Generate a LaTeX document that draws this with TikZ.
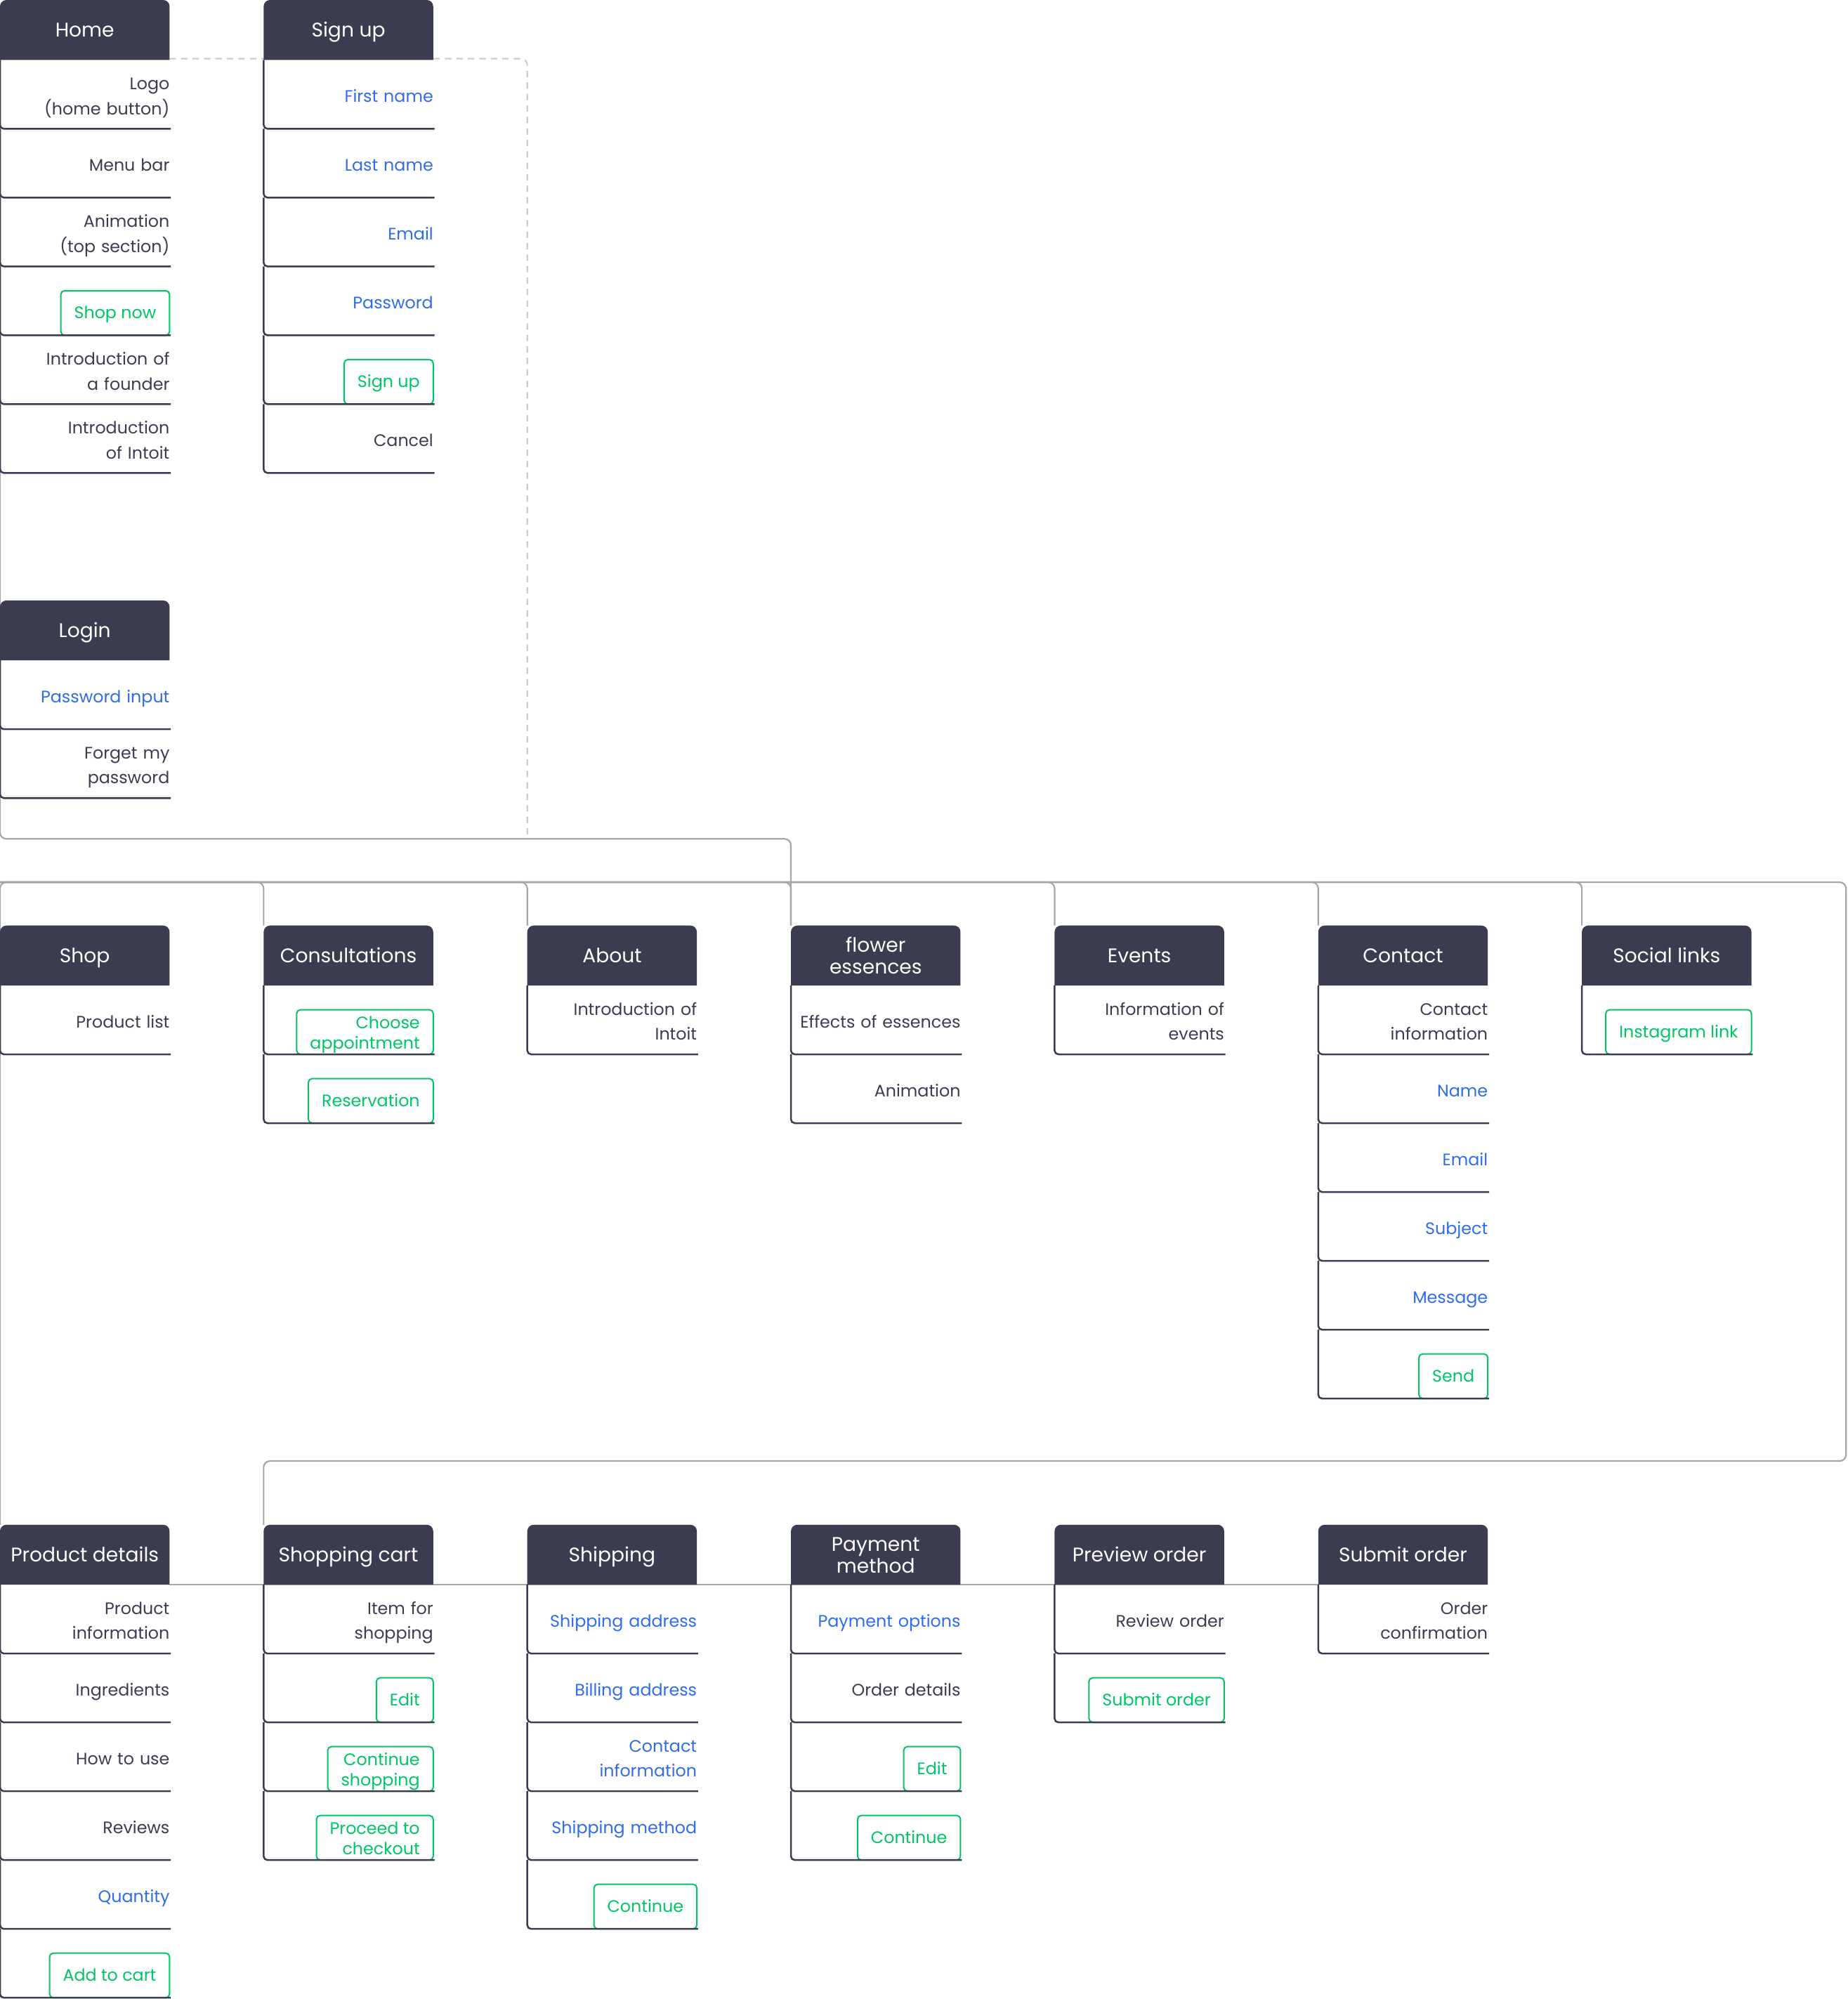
\documentclass[tikz,border=0pt]{standalone}
\usepackage{fontspec}
\setmainfont{Poppins}
\usepackage{tikz}
\usetikzlibrary{positioning,backgrounds}
\definecolor{ink}{HTML}{3C3C50}
\definecolor{azure}{HTML}{2F6CEB}
\definecolor{mint}{HTML}{00C565}
\definecolor{rail}{HTML}{A6A6A6}
\definecolor{faint}{HTML}{CCCCCC}
\tikzset{
  every node/.style={outer sep=0pt},
  hdr/.style={minimum width=133pt,minimum height=47pt,inner sep=0pt,text=white,align=center,text height=11pt,text depth=0pt,font=\fontsize{15.5}{17}\selectfont},
  tallhdr/.style={text height=28.5pt,text depth=0pt},
  item/.style={text width=133pt,inner xsep=0pt,inner ysep=0pt,minimum height=54pt,align=right,text=ink,text height=12.2pt,text depth=0pt,font=\fontsize{13.1}{19.5}\selectfont},
  field/.style={item,text=azure},
  tall/.style={text depth=19.5pt},
  btn/.style={draw=mint,line width=1.1pt,rounded corners=3pt,text=mint,minimum height=35pt,inner xsep=10.5pt,inner ysep=0pt,align=right,anchor=south east,text height=9.2pt,text depth=0pt,font=\fontsize{13.1}{16}\selectfont},
  tallbtn/.style={text height=26.5pt,text depth=0pt},
  cell/.style={draw=ink,line width=1.4pt,rounded corners=3pt},
  link/.style={draw=rail,line width=1.2pt,rounded corners=5pt},
  dashlink/.style={draw=faint,line width=1.2pt,dash pattern=on 5pt off 4pt,rounded corners=5pt},
}
\begin{document}
\begin{tikzpicture}[x=1pt,y=-1pt]
  \useasboundingbox (0,0) rectangle (1449,1568);
  % page headers
  \node[hdr,anchor=north west] (home) at (0,0) {Home};
  \node[hdr,right=73.8pt of home] (signup) {Sign up};
  \node[hdr,anchor=north west] (login) at (0,471) {Login};
  \node[hdr,anchor=north west] (shop) at (0,726) {Shop};
  \node[hdr,right=73.8pt of shop] (cons) {Consultations};
  \node[hdr,right=73.8pt of cons] (about) {About};
  \node[hdr,tallhdr,right=73.8pt of about] (flower) {flower\\essences};
  \node[hdr,right=73.8pt of flower] (events) {Events};
  \node[hdr,right=73.8pt of events] (contact) {Contact};
  \node[hdr,right=73.8pt of contact] (social) {Social links};
  \node[hdr,anchor=north west] (proddet) at (0,1196) {Product details};
  \node[hdr,right=73.8pt of proddet] (cart) {Shopping cart};
  \node[hdr,right=73.8pt of cart] (ship) {Shipping};
  \node[hdr,tallhdr,right=73.8pt of ship] (pay) {Payment\\method};
  \node[hdr,right=73.8pt of pay] (preview) {Preview order};
  \node[hdr,right=73.8pt of preview] (submit) {Submit order};

  % Home
  \node[item,tall,below=0pt of home] (home1) {Logo\\(home button)};
  \node[item,below=0pt of home1] (home2) {Menu bar};
  \node[item,tall,below=0pt of home2] (home3) {Animation\\(top section)};
  \node[item,below=0pt of home3] (home4) {};
  \node[item,tall,below=0pt of home4] (home5) {Introduction of\\a founder};
  \node[item,tall,below=0pt of home5] (home6) {Introduction\\of Intoit};
  \node[btn] (shopnow) at (home4.south east) {Shop now};
  % Sign up
  \node[field,below=0pt of signup] (sign1) {First name};
  \node[field,below=0pt of sign1] (sign2) {Last name};
  \node[field,below=0pt of sign2] (sign3) {Email};
  \node[field,below=0pt of sign3] (sign4) {Password};
  \node[item,below=0pt of sign4] (sign5) {};
  \node[item,below=0pt of sign5] (sign6) {Cancel};
  \node[btn] (signbtn) at (sign5.south east) {Sign up};
  % Login
  \node[field,below=0pt of login] (log1) {Password input};
  \node[item,tall,below=0pt of log1] (log2) {Forget my\\password};

  % Shop, Consultations, About, flower essences, Events
  \node[item,below=0pt of shop] (shop1) {Product list};
  \node[item,below=0pt of cons] (cons1) {};
  \node[item,below=0pt of cons1] (cons2) {};
  \node[btn,tallbtn] (choose) at (cons1.south east) {Choose\\appointment};
  \node[btn] (reserve) at (cons2.south east) {Reservation};
  \node[item,tall,below=0pt of about] (abt1) {Introduction of\\Intoit};
  \node[item,below=0pt of flower] (flw1) {Effects of essences};
  \node[item,below=0pt of flw1] (flw2) {Animation};
  \node[item,tall,below=0pt of events] (evt1) {Information of\\events};
  % Contact
  \node[item,tall,below=0pt of contact] (con1) {Contact\\information};
  \node[field,below=0pt of con1] (con2) {Name};
  \node[field,below=0pt of con2] (con3) {Email};
  \node[field,below=0pt of con3] (con4) {Subject};
  \node[field,below=0pt of con4] (con5) {Message};
  \node[item,below=0pt of con5] (con6) {};
  \node[btn] (send) at (con6.south east) {Send};
  % Social links
  \node[item,below=0pt of social] (soc1) {};
  \node[btn] (insta) at (soc1.south east) {Instagram link};

  % Product details
  \node[item,tall,below=0pt of proddet] (pd1) {Product\\information};
  \node[item,below=0pt of pd1] (pd2) {Ingredients};
  \node[item,below=0pt of pd2] (pd3) {How to use};
  \node[item,below=0pt of pd3] (pd4) {Reviews};
  \node[field,below=0pt of pd4] (pd5) {Quantity};
  \node[item,below=0pt of pd5] (pd6) {};
  \node[btn] (addcart) at (pd6.south east) {Add to cart};
  % Shopping cart
  \node[item,tall,below=0pt of cart] (cart1) {Item for\\shopping};
  \node[item,below=0pt of cart1] (cart2) {};
  \node[item,below=0pt of cart2] (cart3) {};
  \node[item,below=0pt of cart3] (cart4) {};
  \node[btn] (cartedit) at (cart2.south east) {Edit};
  \node[btn,tallbtn] (goon) at (cart3.south east) {Continue\\shopping};
  \node[btn,tallbtn] (checkout) at (cart4.south east) {Proceed to\\checkout};
  % Shipping
  \node[field,below=0pt of ship] (ship1) {Shipping address};
  \node[field,below=0pt of ship1] (ship2) {Billing address};
  \node[field,tall,below=0pt of ship2] (ship3) {Contact\\information};
  \node[field,below=0pt of ship3] (ship4) {Shipping method};
  \node[item,below=0pt of ship4] (ship5) {};
  \node[btn] (shipgo) at (ship5.south east) {Continue};
  % Payment method
  \node[field,below=0pt of pay] (pay1) {Payment options};
  \node[item,below=0pt of pay1] (pay2) {Order details};
  \node[item,below=0pt of pay2] (pay3) {};
  \node[item,below=0pt of pay3] (pay4) {};
  \node[btn] (payedit) at (pay3.south east) {Edit};
  \node[btn] (paygo) at (pay4.south east) {Continue};
  % Preview order, Submit order
  \node[item,below=0pt of preview] (prev1) {Review order};
  \node[item,below=0pt of prev1] (prev2) {};
  \node[btn] (sendorder) at (prev2.south east) {Submit order};
  \node[item,tall,below=0pt of submit] (sub1) {Order\\confirmation};

  % cell borders
  \foreach \c in {home1,home2,home3,home4,home5,home6,sign1,sign2,sign3,sign4,sign5,sign6,
    log1,log2,shop1,cons1,cons2,abt1,flw1,flw2,evt1,con1,con2,con3,con4,con5,con6,soc1,
    pd1,pd2,pd3,pd4,pd5,pd6,cart1,cart2,cart3,cart4,ship1,ship2,ship3,ship4,ship5,
    pay1,pay2,pay3,pay4,prev1,prev2,sub1}
    \draw[cell] (\c.north west) |- ([xshift=1pt]\c.south east);

  % connectors and header fills
  \coordinate (tee) at (413.6,658);
  \coordinate (turn) at (1448,692);
  \coordinate (back) at (1448,1146);
  \begin{scope}[on background layer]
    \draw[dashlink] ([yshift=1pt]home.south east) -| (tee);
    \draw[link] (home.south west) |- (flower.north west |- tee) -- (flower.north west);
    \draw[link] (proddet.north west) |- (turn) -- (back) -| (cart.north west);
    \foreach \pg in {cons,about,flower,events,contact,social}
      \draw[link] (shop.north west |- turn) -| (\pg.north west);
    \draw[link] (proddet.south east) -- (submit.south west);
    \foreach \h in {home,signup,login,shop,cons,about,flower,events,contact,social,
      proddet,cart,ship,pay,preview,submit}
      \fill[ink,rounded corners=5pt] (\h.south west) |- (\h.north east) -- (\h.south east);
  \end{scope}
\end{tikzpicture}
\end{document}
